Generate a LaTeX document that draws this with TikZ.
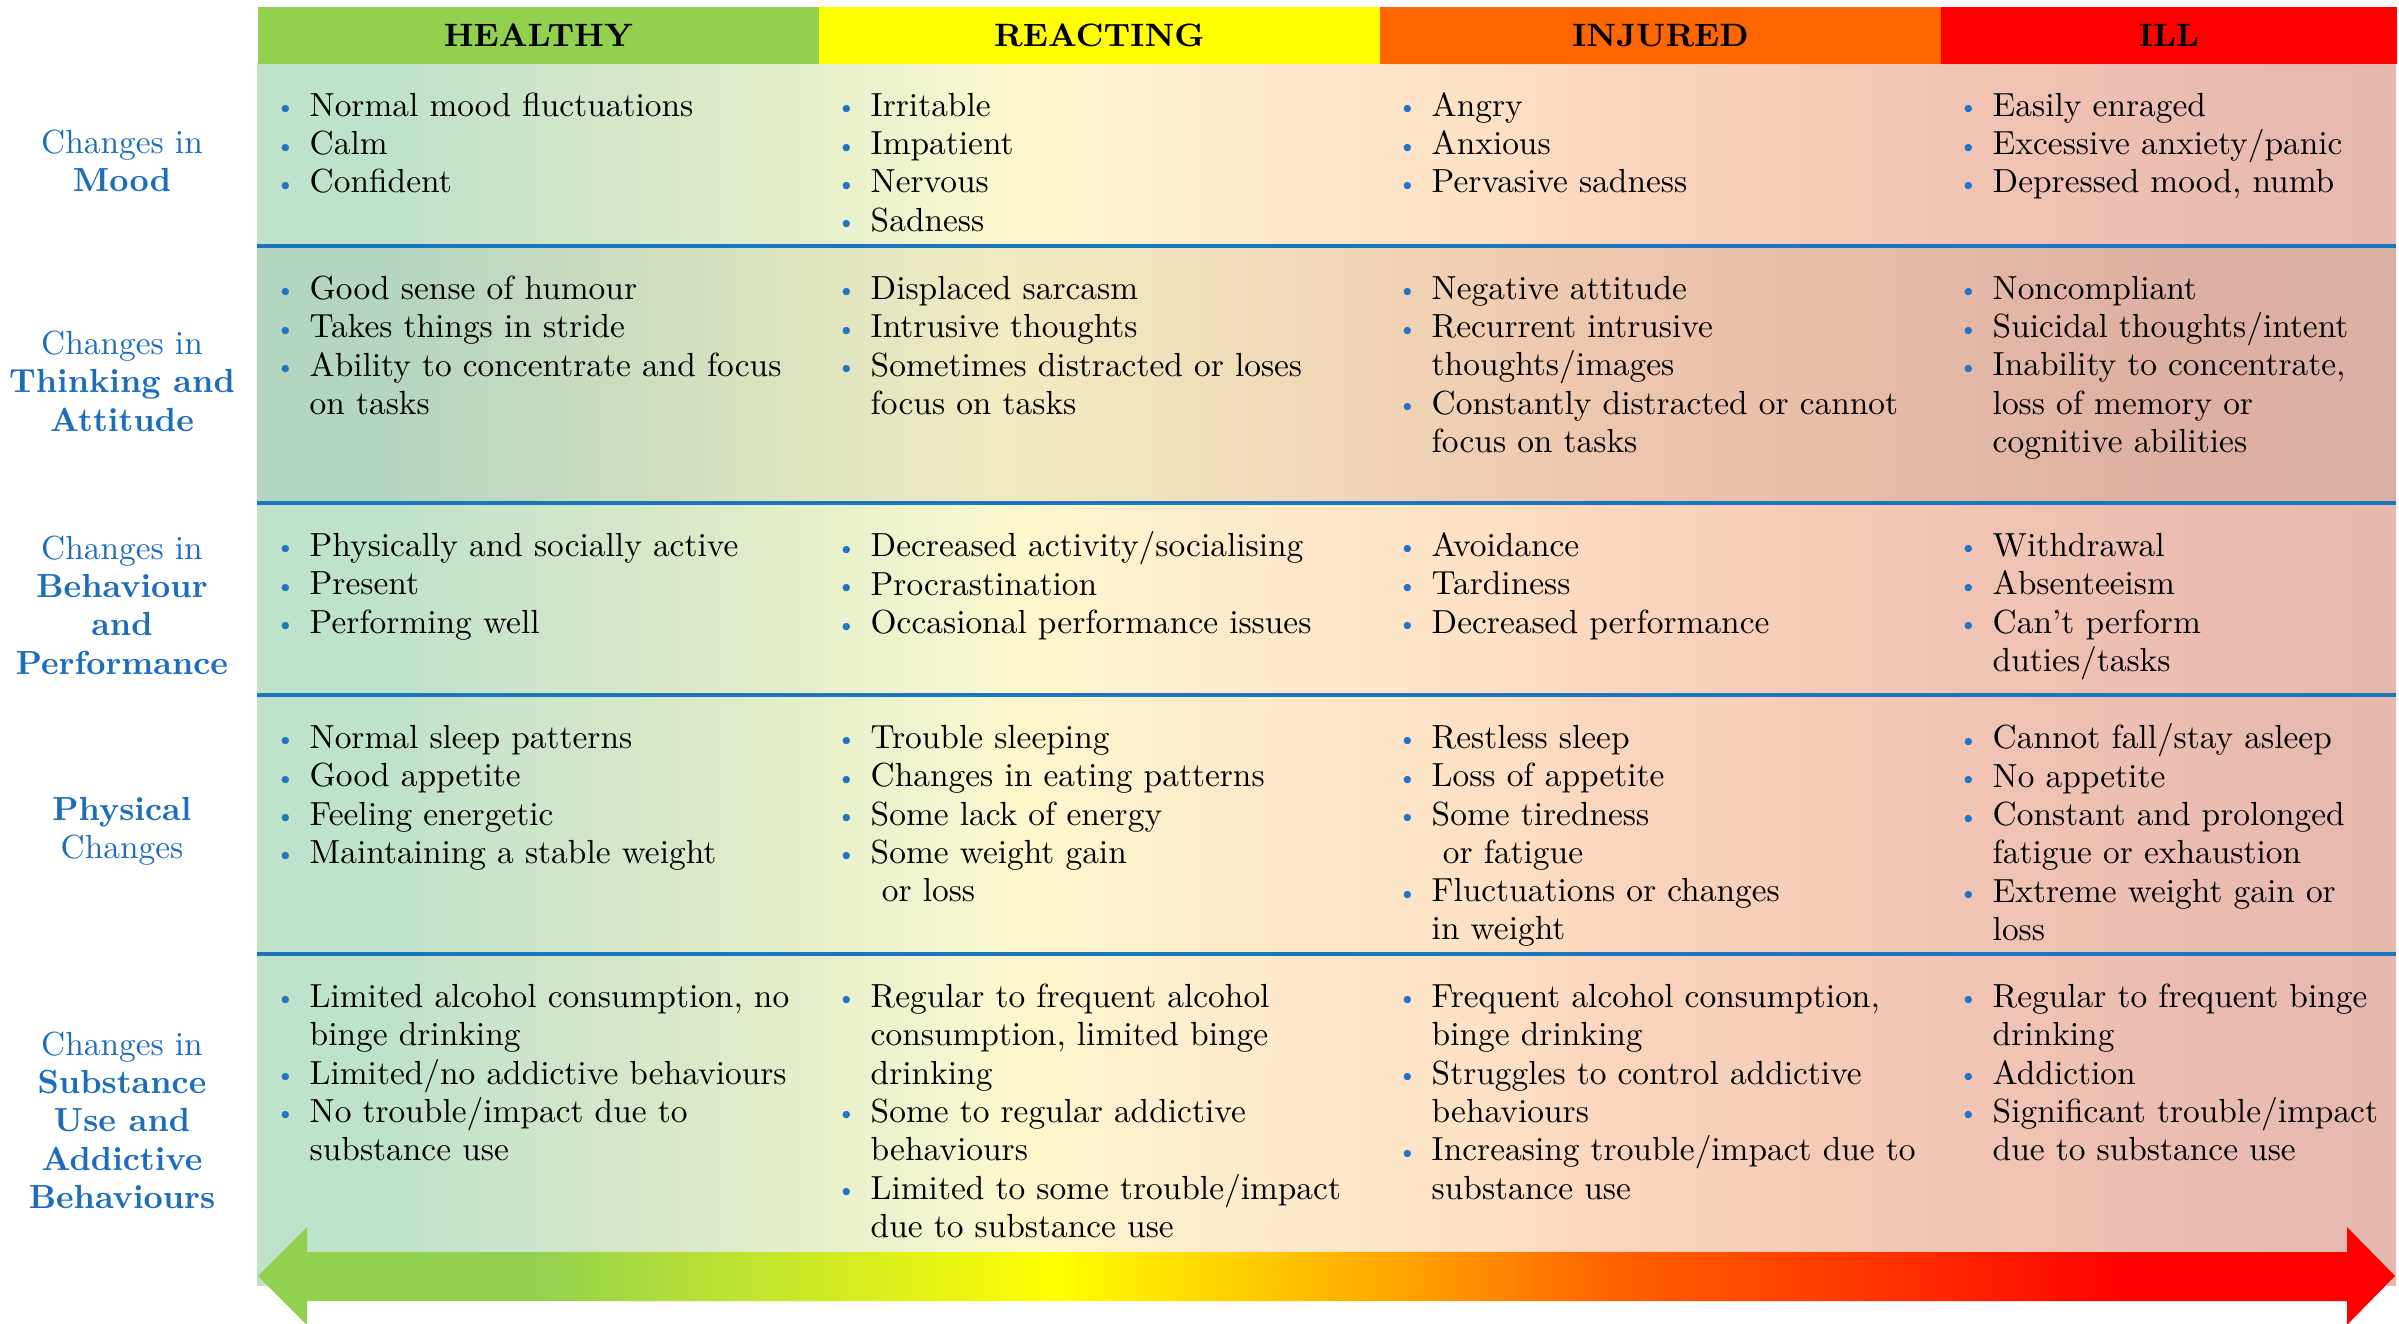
\documentclass[tikz,border=0pt]{standalone}
\definecolor{healthy}{HTML}{92D050}
\definecolor{reacting}{HTML}{FFFF00}
\definecolor{injured}{HTML}{FF6600}
\definecolor{ill}{HTML}{FF0000}
\definecolor{labelBlue}{HTML}{1C6DBC}
\definecolor{ruleBlue}{HTML}{1A76BD}
\definecolor{bulletBlue}{HTML}{2274C4}

\pgfdeclarehorizontalshading{rowShade}{100bp}{%
  rgb(0bp)=(0.749,0.886,0.792); rgb(28bp)=(0.749,0.886,0.792);
  rgb(34.5bp)=(0.847,0.910,0.784); rgb(41bp)=(0.949,0.961,0.812);
  rgb(42.75bp)=(0.992,0.973,0.800); rgb(47.25bp)=(0.992,0.925,0.800);
  rgb(53.5bp)=(0.992,0.886,0.773); rgb(56.85bp)=(0.980,0.835,0.741);
  rgb(63.25bp)=(0.953,0.784,0.714); rgb(69.65bp)=(0.925,0.741,0.694);
  rgb(75bp)=(0.902,0.722,0.682); rgb(100bp)=(0.902,0.722,0.682)}
\pgfdeclarehorizontalshading{rowShadeDark}{100bp}{%
  rgb(0bp)=(0.718,0.839,0.753); rgb(28bp)=(0.706,0.835,0.749);
  rgb(42.5bp)=(0.945,0.922,0.753); rgb(47.25bp)=(0.945,0.875,0.729);
  rgb(56.85bp)=(0.933,0.773,0.682); rgb(69.65bp)=(0.871,0.690,0.639);
  rgb(75bp)=(0.859,0.690,0.643); rgb(100bp)=(0.859,0.690,0.643)}
\pgfdeclarehorizontalshading{arrowShade}{100bp}{%
  rgb(0bp)=(0.573,0.816,0.314); rgb(31.25bp)=(0.573,0.816,0.314);
  rgb(43.7bp)=(1,1,0); rgb(52.1bp)=(1,0.627,0);
  rgb(56.9bp)=(1,0.376,0); rgb(63.3bp)=(1,0.188,0);
  rgb(68.75bp)=(1,0,0); rgb(100bp)=(1,0,0)}

\newcommand\cellfont{\fontsize{9.5}{10.9}\selectfont}
\newcommand\headfont{\fontsize{9.2}{10.9}\selectfont\bfseries}
\newlength\bulw
\setlength\bulw{0.35cm}
\newcommand\itm{\rule{0pt}{7pt}\makebox[\bulw][l]{\raisebox{0.4pt}{\textcolor{bulletBlue}{\fontsize{7}{7}\selectfont\textbullet}}}}
\newcommand\cnt{\hspace*{\bulw}}

\begin{document}
\begin{tikzpicture}[
  x=0.01cm, y=-0.01cm,
  head/.style={
    anchor=north west,
    inner sep=0pt,
    minimum height=0.57cm,
    font=\headfont
  },
  rowlabel/.style={
    align=center,
    text=labelBlue,
    font=\cellfont,
    inner sep=0pt
  },
  cell/.style={
    anchor=north west,
    align=left,
    font=\cellfont,
    inner sep=0pt
  },
  separator/.style={
    draw=ruleBlue,
    line width=0.9pt
  }
]
\useasboundingbox (0,0) rectangle (2399,1323);

% row bands
\foreach \top/\bot/\shd in {63/246/rowShade,246/503/rowShadeDark,503/695/rowShade,695/954/rowShade,954/1285/rowShade} {
  \shade[shading=\shd] (257,\top) rectangle (2396,\bot);
}
\foreach \y in {246,503,695,954} {
  \draw[separator] (257,\y) -- (2396,\y);
}

% stage headers
\foreach \name/\clr/\x/\w [count=\i] in {HEALTHY/healthy/257/5.61cm,REACTING/reacting/818/5.61cm,INJURED/injured/1379/5.61cm,ILL/ill/1940/4.56cm} {
  \node[head,fill=\clr,minimum width=\w] (h\i) at (\x,6) {\name};
}

% row labels
\node[rowlabel] (l1) at (122,161) {Changes in\\\textbf{Mood}};
\node[rowlabel] (l2) at (122,381) {Changes in\\\textbf{Thinking and}\\\textbf{Attitude}};
\node[rowlabel] (l3) at (122,605) {Changes in\\\textbf{Behaviour}\\\textbf{and}\\\textbf{Performance}};
\node[rowlabel] (l4) at (122,831) {\textbf{Physical}\\Changes};
\node[rowlabel] (l5) at (122,1120) {Changes in\\\textbf{Substance}\\\textbf{Use and}\\\textbf{Addictive}\\\textbf{Behaviours}};

% mood
\node[cell] (mood-h) at (274,91) {\itm Normal mood fluctuations\\ \itm Calm\\ \itm Confident};
\node[cell] (mood-r) at (835,91) {\itm Irritable\\ \itm Impatient\\ \itm Nervous\\ \itm Sadness};
\node[cell] (mood-i) at (1396,91) {\itm Angry\\ \itm Anxious\\ \itm Pervasive sadness};
\node[cell] (mood-l) at (1957,91) {\itm Easily enraged\\ \itm Excessive anxiety/panic\\ \itm Depressed mood, numb};

% thinking
\node[cell] (think-h) at (274,274) {\itm Good sense of humour\\ \itm Takes things in stride\\ \itm Ability to concentrate and focus\\ \cnt on tasks};
\node[cell] (think-r) at (835,274) {\itm Displaced sarcasm\\ \itm Intrusive thoughts\\ \itm Sometimes distracted or loses\\ \cnt focus on tasks};
\node[cell] (think-i) at (1396,274) {\itm Negative attitude\\ \itm Recurrent intrusive\\ \cnt thoughts/images\\ \itm Constantly distracted or cannot\\ \cnt focus on tasks};
\node[cell] (think-l) at (1957,274) {\itm Noncompliant\\ \itm Suicidal thoughts/intent\\ \itm Inability to concentrate,\\ \cnt loss of memory or\\ \cnt cognitive abilities};

% behaviour
\node[cell] (behav-h) at (274,531) {\itm Physically and socially active\\ \itm Present\\ \itm Performing well};
\node[cell] (behav-r) at (835,531) {\itm Decreased activity/socialising\\ \itm Procrastination\\ \itm Occasional performance issues};
\node[cell] (behav-i) at (1396,531) {\itm Avoidance\\ \itm Tardiness\\ \itm Decreased performance};
\node[cell] (behav-l) at (1957,531) {\itm Withdrawal\\ \itm Absenteeism\\ \itm Can't perform\\ \cnt duties/tasks};

% physical
\node[cell] (phys-h) at (274,723) {\itm Normal sleep patterns\\ \itm Good appetite\\ \itm Feeling energetic\\ \itm Maintaining a stable weight};
\node[cell] (phys-r) at (835,723) {\itm Trouble sleeping\\ \itm Changes in eating patterns\\ \itm Some lack of energy\\ \itm Some weight gain\\ \cnt\ or loss};
\node[cell] (phys-i) at (1396,723) {\itm Restless sleep\\ \itm Loss of appetite\\ \itm Some tiredness\\ \cnt\ or fatigue\\ \itm Fluctuations or changes\\ \cnt in weight};
\node[cell] (phys-l) at (1957,723) {\itm Cannot fall/stay asleep\\ \itm No appetite\\ \itm Constant and prolonged\\ \cnt fatigue or exhaustion\\ \itm Extreme weight gain or\\ \cnt loss};

% substance use
\node[cell] (subst-h) at (274,982) {\itm Limited alcohol consumption, no\\ \cnt binge drinking\\ \itm Limited/no addictive behaviours\\ \itm No trouble/impact due to\\ \cnt substance use};
\node[cell] (subst-r) at (835,982) {\itm Regular to frequent alcohol\\ \cnt consumption, limited binge\\ \cnt drinking\\ \itm Some to regular addictive\\ \cnt behaviours\\ \itm Limited to some trouble/impact\\ \cnt due to substance use};
\node[cell] (subst-i) at (1396,982) {\itm Frequent alcohol consumption,\\ \cnt binge drinking\\ \itm Struggles to control addictive\\ \cnt behaviours\\ \itm Increasing trouble/impact due to\\ \cnt substance use};
\node[cell] (subst-l) at (1957,982) {\itm Regular to frequent binge\\ \cnt drinking\\ \itm Addiction\\ \itm Significant trouble/impact\\ \cnt due to substance use};

% double arrow along the bottom
\shade[shading=arrowShade] (258,1276) -- (307,1227) -- (307,1252) -- (2347,1252) -- (2347,1227)
  -- (2395,1276) -- (2347,1325) -- (2347,1301) -- (307,1301) -- (307,1325) -- cycle;
\end{tikzpicture}
\end{document}
